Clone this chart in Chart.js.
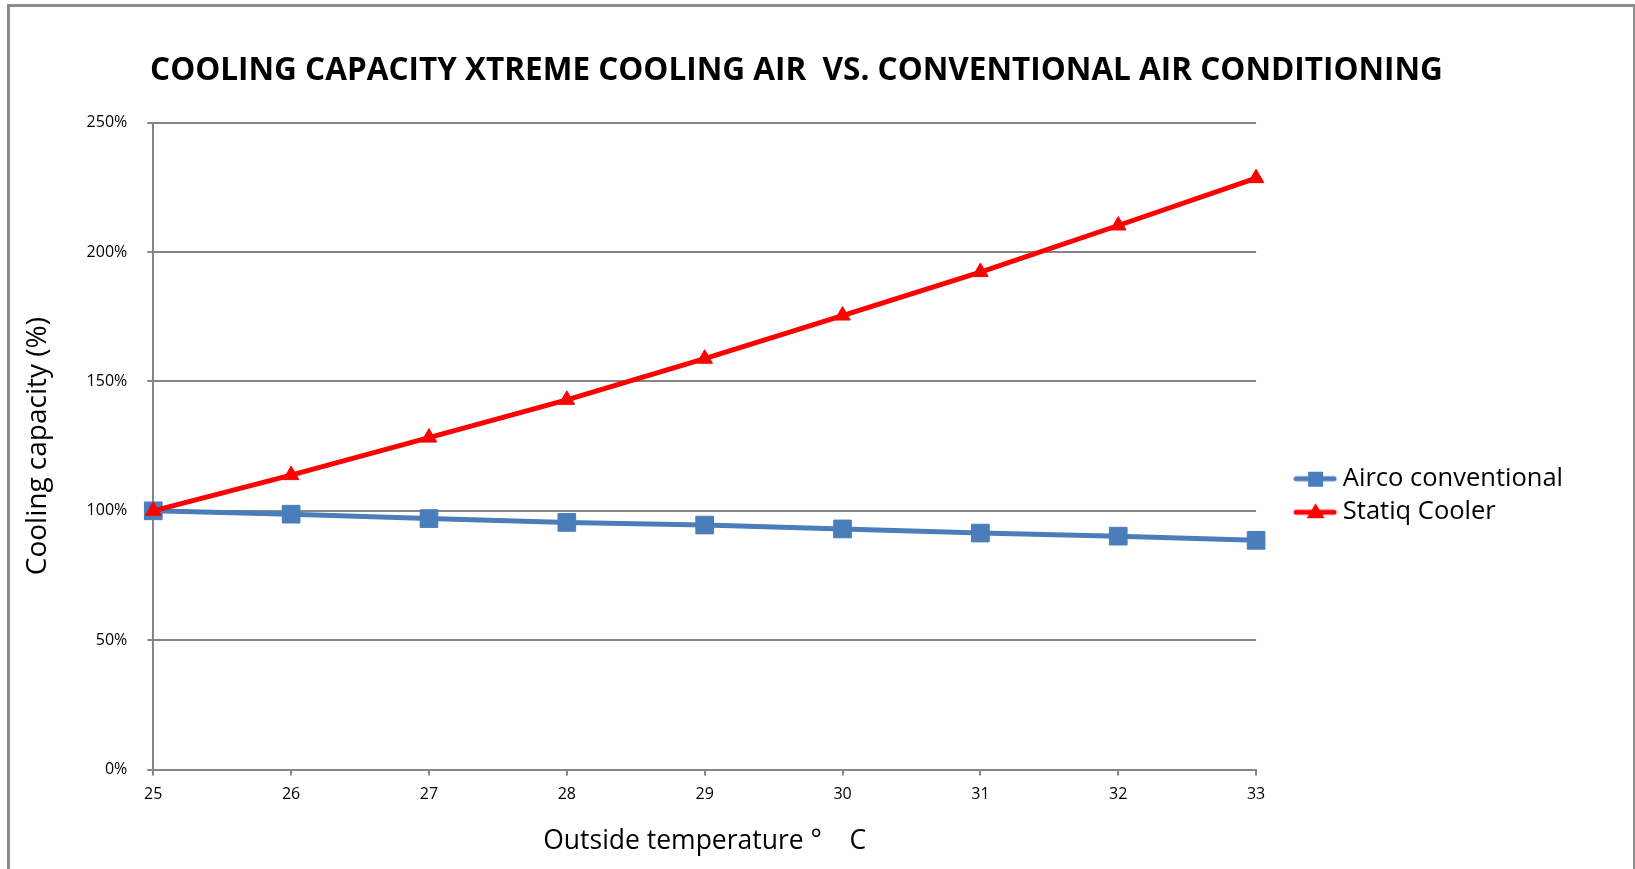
<!DOCTYPE html>
<html>
<head>
<meta charset="utf-8">
<script src="https://cdn.jsdelivr.net/npm/chart.js@4.4.1/dist/chart.umd.min.js"></script>
<style>
  html, body { margin:0; padding:0; background:#fff; overflow:hidden; }
  .frame { position:absolute; left:7px; top:4px; width:1623px; height:900px; border:3px solid #8c8c8c; }
  .wrap { position:absolute; left:0; top:0; width:1635px; height:869px; }
</style>
</head>
<body>
<div class="frame"></div>
<div class="wrap"><canvas id="c"></canvas></div>
<script>
// data
const temps = ["25","26","27","28","29","30","31","32","33"];
const airco = [100, 98.7, 97.0, 95.5, 94.5, 93.0, 91.4, 90.2, 88.6];
const statiq = [100, 113.8, 128.3, 142.9, 158.8, 175.5, 192.3, 210.3, 228.6];
const yTicks = [0, 50, 100, 150, 200, 250];

const BLUE = "#4a7ebb";
const RED = "#ff0000";
const GRID = "#868686";
const FONT = "'Open Sans', sans-serif";

// legend icon: line with the marker on it (left half left empty to push it right)
function makeIcon(color, shape){
    const c = document.createElement("canvas");
    c.width = 84; c.height = 24;
    const g = c.getContext("2d");
    g.strokeStyle = color; g.fillStyle = color;
    g.lineWidth = 5; g.lineCap = "round";
    g.beginPath(); g.moveTo(41, 12); g.lineTo(79, 12); g.stroke();
    if(shape=="rect"){
        g.fillRect(53, 5, 15, 15);
    }
    else{
        g.beginPath();
        g.moveTo(60.5, 3); g.lineTo(69.5, 18); g.lineTo(51.5, 18);
        g.closePath(); g.fill();
    }
    return c;
}
const icons = [makeIcon(BLUE,"rect"), makeIcon(RED,"triangle")];

new Chart(document.getElementById("c"), {
    type: "line",
    data: {
        labels: temps,
        datasets: [{
            label: "Airco conventional",
            data: airco,
            order: 1,
            borderColor: BLUE,
            backgroundColor: BLUE,
            borderWidth: 5,
            pointStyle: "rect",
            pointRadius: 12.5,
            pointBorderWidth: 1,
            pointBorderColor: BLUE,
            pointBackgroundColor: BLUE,
            tension: 0
        },{
            label: "Statiq Cooler",
            data: statiq,
            order: 0,
            borderColor: RED,
            backgroundColor: RED,
            borderWidth: 5,
            pointStyle: "triangle",
            pointRadius: 9,
            pointBorderWidth: 1,
            pointBorderColor: RED,
            pointBackgroundColor: RED,
            tension: 0
        }]
    },
    options: {
        responsive: true,
        maintainAspectRatio: false,
        animation: false,
        layout: { padding: { left: 20, right: 62, top: 0, bottom: 11.5 } },
        plugins: {
            tooltip: { enabled: false },
            title: {
                display: true,
                text: "COOLING CAPACITY XTREME COOLING AIR  VS. CONVENTIONAL AIR CONDITIONING",
                color: "#000",
                font: { family: FONT, size: 31.5, weight: "bold" },
                padding: { top: 52, bottom: 33 }
            },
            legend: {
                position: "right",
                align: "center",
                title: { display: true, text: " ", font: { size: 12 }, padding: { top: 119, bottom: 0 } },
                labels: {
                    color: "#000",
                    font: { family: FONT, size: 25.5 },
                    usePointStyle: true,
                    pointStyleWidth: 66,
                    padding: 8,
                    generateLabels: function(chart){
                        const items = Chart.defaults.plugins.legend.labels.generateLabels(chart);
                        items.forEach(function(it){ it.pointStyle = icons[it.datasetIndex]; });
                        return items.sort(function(a,b){ return a.datasetIndex - b.datasetIndex; });
                    }
                }
            }
        },
        scales: {
            x: {
                offset: false,
                grid: { drawOnChartArea: false, drawTicks: true, tickLength: 6, color: GRID, lineWidth: 2 },
                border: { display: true, color: GRID, width: 2 },
                ticks: { color: "#000", font: { family: FONT, size: 16 }, padding: 9, maxRotation: 0 },
                title: {
                    display: true,
                    text: "Outside temperature °    C",
                    color: "#000",
                    font: { family: FONT, size: 26.5 },
                    padding: { top: 13, bottom: 0 }
                }
            },
            y: {
                min: 0,
                max: 250,
                afterBuildTicks: function(scale){ scale.ticks = yTicks.map(function(v){ return {value: v}; }); },
                grid: { color: GRID, lineWidth: 2, drawTicks: true, tickLength: 6 },
                border: { display: true, color: GRID, width: 2 },
                ticks: {
                    color: "#000",
                    font: { family: FONT, size: 16 },
                    padding: 20,
                    callback: function(v){ return v + "%"; }
                },
                title: {
                    display: true,
                    text: "Cooling capacity (%)",
                    color: "#000",
                    font: { family: FONT, size: 28 },
                    padding: { top: 1, bottom: 12 }
                }
            }
        }
    }
});
</script>
</body>
</html>
